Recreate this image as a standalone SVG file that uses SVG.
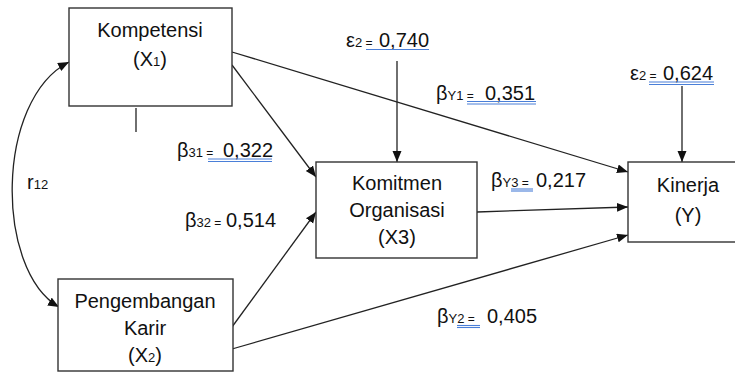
<svg xmlns="http://www.w3.org/2000/svg" width="735" height="372" viewBox="0 0 735 372">
<defs>
<marker id="ah" markerUnits="userSpaceOnUse" markerWidth="12" markerHeight="10" refX="11" refY="4.5" orient="auto-start-reverse">
<path d="M0,0 L11,4.5 L0,9 z" fill="#111"/>
</marker>
<style>
.box{fill:#fff;stroke:#333;stroke-width:1.4}
.t{font-family:"Liberation Sans",Arial,sans-serif;font-size:20px;fill:#111}
.c{text-anchor:middle}
.s{font-size:13px}
.e{font-size:12px}
.ln{stroke:#222;stroke-width:1.3;fill:none}
.ul{stroke:#4a7fd8;stroke-width:1.1}
</style>
</defs>
<rect width="735" height="372" fill="#fff"/>
<g id="connectors">
<line class="ln" x1="232" y1="52" x2="628" y2="172" marker-end="url(#ah)"/>
<line class="ln" x1="232" y1="65" x2="316" y2="177" marker-end="url(#ah)"/>
<line class="ln" x1="232" y1="327" x2="316" y2="212" marker-end="url(#ah)"/>
<line class="ln" x1="232" y1="349" x2="628" y2="235" marker-end="url(#ah)"/>
<line class="ln" x1="477" y1="212" x2="628" y2="207" marker-end="url(#ah)"/>
<line class="ln" x1="397" y1="61" x2="397" y2="162" marker-end="url(#ah)"/>
<line class="ln" x1="682" y1="86" x2="682" y2="162" marker-end="url(#ah)"/>
<path class="ln" d="M69,62 C-5,100 -5,270 59,307" marker-start="url(#ah)" marker-end="url(#ah)"/>
<line class="ln" x1="136" y1="108" x2="136" y2="132"/>
</g>
<g id="kompetensi">
<rect class="box" x="69" y="8" width="163" height="98"/>
<text class="t c" x="150" y="37">Kompetensi</text>
<text class="t c" x="150" y="66">(X<tspan class="s">1</tspan>)</text>
</g>
<g id="pengembangan">
<rect class="box" x="58" y="279" width="175" height="92"/>
<text class="t c" x="145" y="308">Pengembangan</text>
<text class="t c" x="145" y="335">Karir</text>
<text class="t c" x="145" y="362">(X<tspan class="s">2</tspan>)</text>
</g>
<g id="komitmen">
<rect class="box" x="316" y="162" width="161" height="96"/>
<text class="t c" x="397" y="190">Komitmen</text>
<text class="t c" x="397" y="217">Organisasi</text>
<text class="t c" x="397" y="244">(X3)</text>
</g>
<g id="kinerja">
<rect class="box" x="628" y="162" width="112" height="80"/>
<text class="t c" x="688" y="192">Kinerja</text>
<text class="t c" x="688" y="222">(Y)</text>
</g>
<g id="labels">
<text class="t" x="27" y="189">r<tspan class="s">12</tspan></text>

<text class="t" x="346" y="47">ε<tspan class="s">2</tspan><tspan class="e"> = </tspan></text>
<text class="t" x="379" y="47">0,740</text>
<line class="ul" x1="366" y1="49.5" x2="429" y2="49.5"/>

<text class="t" x="630" y="80">ε<tspan class="s">2</tspan><tspan class="e"> = </tspan></text>
<text class="t" x="663" y="80">0,624</text>
<line class="ul" x1="649" y1="82" x2="714" y2="82"/>
<line class="ul" x1="649" y1="84.5" x2="714" y2="84.5"/>

<text class="t" x="436" y="100">β<tspan class="s">Y1</tspan><tspan class="e"> = </tspan></text>
<text class="t" x="485" y="100">0,351</text>
<line class="ul" x1="467" y1="101.5" x2="536" y2="101.5"/>
<line class="ul" x1="467" y1="104" x2="536" y2="104"/>

<text class="t" x="177" y="157">β<tspan class="s">31</tspan><tspan class="e"> = </tspan></text>
<text class="t" x="223" y="157">0,322</text>
<line class="ul" x1="208" y1="159" x2="272" y2="159"/>
<line class="ul" x1="208" y1="161.5" x2="272" y2="161.5"/>

<text class="t" x="185" y="227">β<tspan class="s">32</tspan><tspan class="e"> = </tspan></text>
<text class="t" x="226" y="227">0,514</text>

<text class="t" x="491" y="187">β<tspan class="s">Y3</tspan><tspan class="e"> = </tspan></text>
<text class="t" x="536" y="187">0,217</text>
<line class="ul" x1="511" y1="189" x2="533" y2="189"/>
<line class="ul" x1="511" y1="191" x2="533" y2="191"/>

<text class="t" x="437" y="323">β<tspan class="s">Y2</tspan><tspan class="e"> = </tspan></text>
<text class="t" x="487" y="323">0,405</text>
<line class="ul" x1="457" y1="325.5" x2="480" y2="325.5"/>
<line class="ul" x1="457" y1="327.5" x2="480" y2="327.5"/>
</g>
</svg>
